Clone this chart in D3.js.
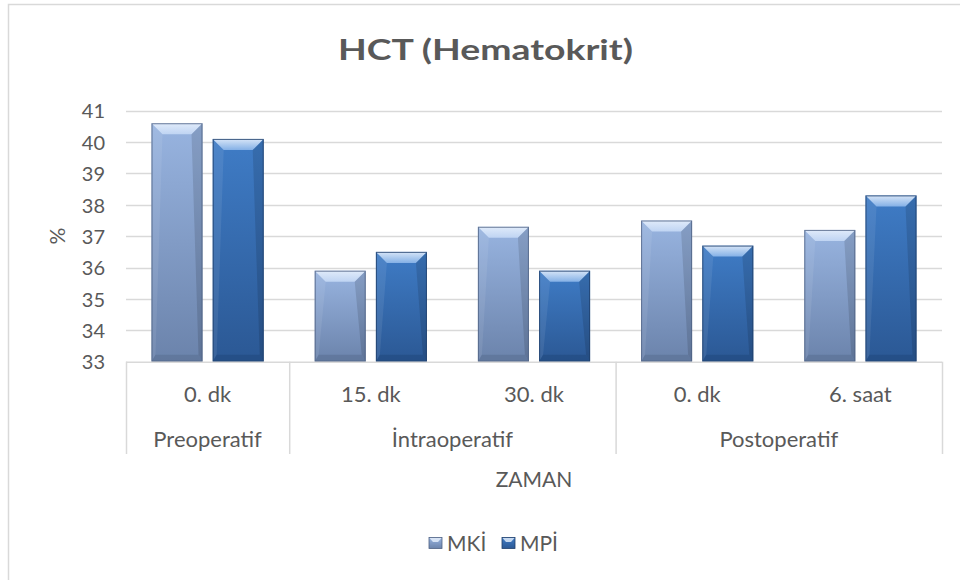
<!DOCTYPE html>
<html>
<head>
<meta charset="utf-8">
<script src="https://cdn.jsdelivr.net/npm/d3@7"></script>
<style>
  html, body { margin: 0; padding: 0; background: #fff; }
  svg { display: block; font-family: Lato, "Open Sans", sans-serif; }
</style>
</head>
<body>
<svg id="chart" width="960" height="580"></svg>
<script>
// Time points (inner axis level) and their phase (outer axis level)
const timePoints = ["0. dk", "15. dk", "30. dk", "0. dk", "6. saat"];
const phases = ["Preoperatif", "İntraoperatif", "İntraoperatif", "Postoperatif", "Postoperatif"];
const seriesNames = ["MKİ", "MPİ"];
const mkiValues = [40.6, 35.9, 37.3, 37.5, 37.2];
const mpiValues = [40.1, 36.5, 35.9, 36.7, 38.3];
const yTicks = [33, 34, 35, 36, 37, 38, 39, 40, 41];

const title = "HCT (Hematokrit)";
const yTitle = "%";
const xTitle = "ZAMAN";

const svg = d3.select("#chart");
const W = 960, H = 580;
const plot = { left: 126, right: 942, top: 110.7, bottom: 361.7 };
const textColor = "#595959";

// Chart frame (right and bottom edges fall outside the view)
svg.append("rect")
  .attr("x", 8.5).attr("y", 4.5)
  .attr("width", W + 20).attr("height", H + 20)
  .attr("fill", "#fff").attr("stroke", "#d9d9d9").attr("stroke-width", 1.5);

const idx = d3.range(timePoints.length);
const x = d3.scaleBand().domain(idx).range([plot.left, plot.right]).paddingInner(0).paddingOuter(0);
const y = d3.scaleLinear().domain([33, 41]).range([plot.bottom, plot.top]);

// Bars take 2 of 3.2 slots of each category, with 0.2 gap between the pair
const catW = x.bandwidth();
const barW = catW / 3.2;
const xs = d3.scaleOrdinal().domain(seriesNames).range([0.5 * barW, 1.7 * barW]);

// Gradients
const defs = svg.append("defs");
const palettes = {
  "MKİ": { top: "#98b4e0", bottom: "#6b83ab", hi: "#c4d8f5", lo: "#5a6f93", edge: "#4f6283" },
  "MPİ": { top: "#3f7cc6", bottom: "#2b5894", hi: "#8db7ea", lo: "#224a7e", edge: "#1f3f6b" }
};
seriesNames.forEach((s, i) => {
  const g = defs.append("linearGradient").attr("id", "grad" + i)
    .attr("x1", 0).attr("y1", 0).attr("x2", 0).attr("y2", 1);
  g.append("stop").attr("offset", "0%").attr("stop-color", palettes[s].top);
  g.append("stop").attr("offset", "100%").attr("stop-color", palettes[s].bottom);
  const h = defs.append("linearGradient").attr("id", "hi" + i)
    .attr("x1", 0).attr("y1", 0).attr("x2", 0).attr("y2", 1);
  h.append("stop").attr("offset", "0%").attr("stop-color", "#e8f1fd");
  h.append("stop").attr("offset", "100%").attr("stop-color", palettes[s].hi);
});

// Gridlines
svg.append("g").selectAll("line").data(yTicks.slice(1)).join("line")
  .attr("x1", plot.left).attr("x2", plot.right)
  .attr("y1", d => Math.round(y(d)) + 0.5).attr("y2", d => Math.round(y(d)) + 0.5)
  .attr("stroke", "#d9d9d9").attr("stroke-width", 1.3);

// Y axis labels
const yAxis = d3.axisLeft(y).tickValues(yTicks).tickSize(0).tickPadding(0);
const yg = svg.append("g").attr("transform", `translate(${plot.left - 21},0)`).call(yAxis);
yg.select(".domain").remove();
yg.selectAll("text").attr("fill", textColor).style("font-size", "20px")
  .style("font-family", "Lato, sans-serif").attr("dy", "0.36em");

// Bars
const data = [];
idx.forEach(i => {
  data.push({ i, s: "MKİ", k: 0, v: mkiValues[i] });
  data.push({ i, s: "MPİ", k: 1, v: mpiValues[i] });
});
const bars = svg.append("g").selectAll("g").data(data).join("g");
bars.each(function (d) {
  const g = d3.select(this);
  const x0 = x(d.i) + xs(d.s), x1 = x0 + barW;
  const y0 = y(d.v), y1 = y(33);
  const p = palettes[d.s];
  const bt = 11, bb = 7, bs = 4;
  g.append("rect").attr("x", x0).attr("y", y0).attr("width", barW).attr("height", y1 - y0)
    .attr("fill", `url(#grad${d.k})`);
  // top bevel
  g.append("polygon")
    .attr("points", [[x0, y0], [x1, y0], [x1 - bt, y0 + bt], [x0 + bt, y0 + bt]].join(" "))
    .attr("fill", `url(#hi${d.k})`).attr("opacity", 0.9);
  // side bevels
  g.append("polygon")
    .attr("points", [[x0, y0], [x0 + bt, y0 + bt], [x0 + bs, y1 - bb], [x0, y1]].join(" "))
    .attr("fill", "#ffffff").attr("opacity", 0.08);
  g.append("polygon")
    .attr("points", [[x1, y0], [x1 - bt, y0 + bt], [x1 - bs, y1 - bb], [x1, y1]].join(" "))
    .attr("fill", "#000000").attr("opacity", 0.12);
  // bottom bevel
  g.append("polygon")
    .attr("points", [[x0, y1], [x1, y1], [x1 - bs, y1 - bb], [x0 + bs, y1 - bb]].join(" "))
    .attr("fill", p.lo).attr("opacity", 0.6);
  g.append("rect").attr("x", x0 + 0.5).attr("y", y0 + 0.5).attr("width", barW - 1).attr("height", y1 - y0 - 1)
    .attr("fill", "none").attr("stroke", p.edge).attr("stroke-width", 1).attr("opacity", 0.8);
});

// Category axis
const axisG = svg.append("g");
axisG.append("line").attr("x1", plot.left).attr("x2", plot.right)
  .attr("y1", plot.bottom + 0.5).attr("y2", plot.bottom + 0.5)
  .attr("stroke", "#d9d9d9").attr("stroke-width", 1.5);

// Phase group boundaries
const groupBounds = [];
idx.forEach(i => { if (i === 0 || phases[i] !== phases[i - 1]) groupBounds.push(i); });
const boundaryX = groupBounds.map(i => x(i)).concat([plot.right]);
axisG.selectAll("line.sep").data(boundaryX).join("line").attr("class", "sep")
  .attr("x1", d => d + 0.5).attr("x2", d => d + 0.5)
  .attr("y1", plot.bottom).attr("y2", 454)
  .attr("stroke", "#d9d9d9").attr("stroke-width", 1.5);

axisG.selectAll("text.tp").data(idx).join("text").attr("class", "tp")
  .attr("x", i => x(i) + catW / 2).attr("y", 401.5)
  .attr("text-anchor", "middle").attr("fill", textColor).style("font-size", "22px")
  .text(i => timePoints[i]);

const groupInfo = groupBounds.map((start, gi) => {
  const end = gi + 1 < groupBounds.length ? groupBounds[gi + 1] : timePoints.length;
  return { name: phases[start], x0: x(start), x1: x(end - 1) + catW };
});
axisG.selectAll("text.ph").data(groupInfo).join("text").attr("class", "ph")
  .attr("x", d => (d.x0 + d.x1) / 2).attr("y", 447)
  .attr("text-anchor", "middle").attr("fill", textColor).style("font-size", "22px")
  .text(d => d.name);

// Axis titles
svg.append("text").attr("x", (plot.left + plot.right) / 2).attr("y", 487)
  .attr("text-anchor", "middle").attr("fill", textColor).style("font-size", "21px").text(xTitle);
svg.append("text").attr("transform", `translate(65,${(plot.top + plot.bottom) / 2}) rotate(-90)`)
  .attr("text-anchor", "middle").attr("fill", textColor).style("font-size", "21px").text(yTitle);

// Title
svg.append("text").attr("x", 338).attr("y", 60)
  .attr("fill", textColor).attr("textLength", 295).attr("lengthAdjust", "spacingAndGlyphs")
  .style("font-size", "29px").style("font-weight", "bold").text(title);

// Legend
const legend = svg.append("g").attr("transform", "translate(429,0)");
const legItems = legend.selectAll("g").data(seriesNames).join("g")
  .attr("transform", (d, i) => `translate(${i * 73},0)`);
legItems.append("rect").attr("x", 0).attr("y", 537.5).attr("width", 13).attr("height", 11)
  .attr("fill", (d, i) => `url(#grad${i})`).attr("stroke", d => palettes[d].edge).attr("stroke-width", 0.8);
legItems.append("polygon")
  .attr("points", [[0.5, 538], [12.5, 538], [9, 542], [4, 542]].join(" "))
  .attr("fill", "#e8f1fd").attr("opacity", 0.8);
legItems.append("text").attr("x", 18).attr("y", 551)
  .attr("fill", textColor).style("font-size", "21px").text(d => d);
</script>
</body>
</html>
